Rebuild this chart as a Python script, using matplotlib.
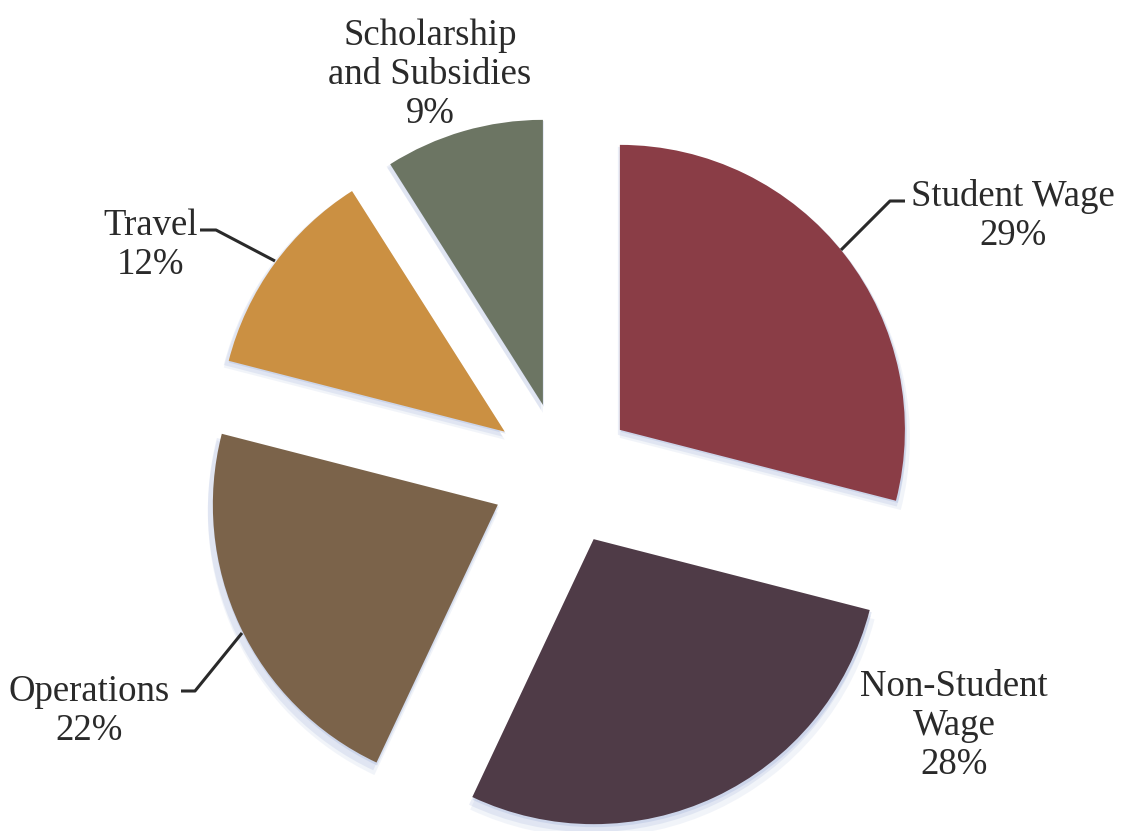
import matplotlib
matplotlib.use("Agg")
import matplotlib.pyplot as plt

# Budget shares, clockwise from 12 o'clock
categories = ["Student Wage", "Non-Student Wage", "Operations", "Travel",
              "Scholarship and Subsidies"]
shares = [29, 28, 22, 12, 9]
colors = ["#8A3D46", "#4F3B47", "#7B634A", "#CB9042", "#6C7563"]

W, H = 1122, 831
fig = plt.figure(figsize=(W / 100, H / 100), dpi=100)
ax = fig.add_axes([0, 0, 1, 1])
ax.set_xlim(0, W)
ax.set_ylim(0, H)
ax.set_aspect("equal")
ax.axis("off")

center = (563, H - 474)
radius = 285
explode = [72] * len(shares)

# soft bluish shadow beneath the slices
for dx, dy, a, grow in [(0, -8, 0.12, 5), (-2, -5, 0.18, 3), (1, -2, 0.25, 1)]:
    ax.pie(shares, startangle=90, counterclock=False, explode=explode,
           radius=radius + grow, center=(center[0] + dx, center[1] + dy),
           colors=["#93a6d4"] * len(shares),
           wedgeprops=dict(linewidth=0, alpha=a), frame=True)

ax.pie(shares, startangle=90, counterclock=False, explode=explode,
       radius=radius, center=center, colors=colors,
       wedgeprops=dict(linewidth=0), frame=True)
ax.set_xlim(0, W)
ax.set_ylim(0, H)
ax.axis("off")

font = dict(family=["Liberation Serif", "DejaVu Serif"], fontsize=26.5,
            color="#2a2a2a", ha="center", va="center", linespacing=1.17)

def lbl(i):
    return f"{categories[i]}\n{shares[i]}%"

ax.text(1013, H - 216, lbl(0), **font)
ax.text(954, H - 726, f"Non-Student\nWage\n{shares[1]}%", **font)
ax.text(89, H - 711, lbl(2), **font)
ax.text(151, H - 245, lbl(3), **font)
ax.text(430, H - 75, f"Scholarship\nand Subsidies\n{shares[4]}%", **font)

# leader lines
line = dict(color="#2a2a2a", lw=2.2, solid_capstyle="butt")
def leader(pts):
    xs = [p[0] for p in pts]
    ys = [H - p[1] for p in pts]
    ax.plot(xs, ys, **line)

leader([(841, 250), (890, 201), (905, 201)])
leader([(200, 230), (216, 230), (275, 261)])
leader([(181, 691), (195, 691), (242, 633)])

fig.savefig("out.png", dpi=100, facecolor="white")
